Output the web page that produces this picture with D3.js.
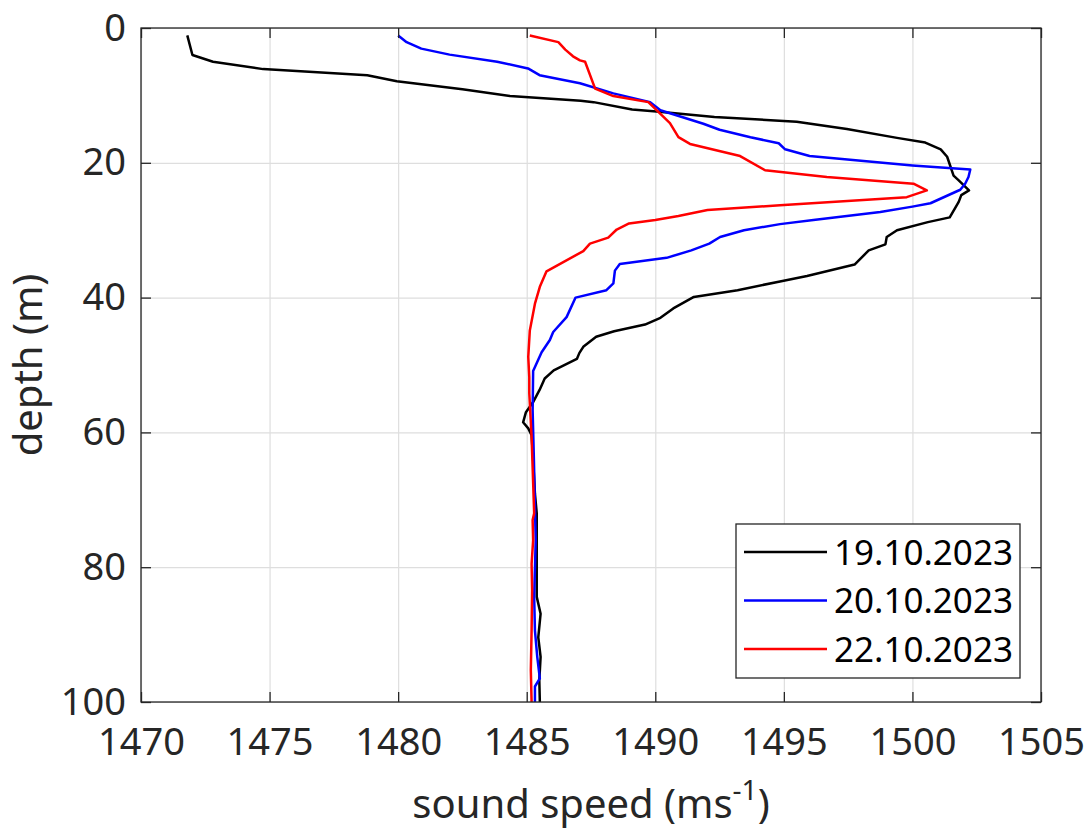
<!DOCTYPE html>
<html lang="en">
<head>
<meta charset="utf-8" />
<title>Sound speed profiles</title>
<script src="https://cdn.jsdelivr.net/npm/d3@7"></script>
<style>
  body { margin: 0; background: #fff; }
  svg text { font-family: "Noto Sans", sans-serif; }
</style>
</head>
<body>
<div id="chart"></div>
<script>

// ---- data ----
var dates = ["19.10.2023", "20.10.2023", "22.10.2023"];
var colors = ["#000000", "#0000ff", "#ff0000"];
var xTicks = [1470, 1475, 1480, 1485, 1490, 1495, 1500, 1505];
var yTicks = [0, 20, 40, 60, 80, 100];

// 19.10.2023
var depth1 = [1.1, 4.0, 5.0, 6.1, 7.0, 7.9, 9.1, 10.1, 10.8, 11.0, 12.1, 12.4, 13.2, 13.9, 15.0, 16.3, 17.0, 18.0, 19.1,
  21.9, 22.6, 24.1, 24.8, 25.8, 28.1, 28.8, 30.0, 31.0, 32.1, 33.0, 35.1, 36.8, 37.6, 38.9, 39.9, 41.6, 43.0, 44.0,
  45.0, 45.8, 47.3, 48.2, 49.1, 50.8, 52.0, 53.7, 55.5, 57.0, 58.5, 59.4, 60.4, 64.1, 69.1, 72.0, 76.0, 84.4, 86.9,
  90.4, 93.3, 96.8, 100];
var speed1 = [1471.8, 1472.0, 1472.8, 1474.75, 1478.8, 1479.95, 1482.5, 1484.35, 1487.1, 1487.6, 1489.1, 1490.05,
  1492.3, 1495.5, 1497.45, 1499.4, 1500.5, 1501.1, 1501.35, 1501.6, 1501.8, 1502.2, 1501.9, 1501.8, 1501.45, 1500.6,
  1499.4, 1499.0, 1498.95, 1498.3, 1497.75, 1495.9, 1494.85, 1493.2, 1491.5, 1490.7, 1490.2, 1489.6, 1488.4, 1487.7,
  1487.2, 1487.05, 1486.95, 1486.05, 1485.7, 1485.5, 1485.25, 1484.97, 1484.86, 1485.06, 1485.19, 1485.25, 1485.32,
  1485.39, 1485.39, 1485.39, 1485.54, 1485.45, 1485.54, 1485.49, 1485.51];

// 20.10.2023
var depth2 = [1.1, 2.1, 3.06, 3.95, 5.0, 6.0, 7.0, 8.2, 9.7, 11.0, 12.2, 14.2, 15.1, 16.2, 17.1, 18.0, 19.0, 20.4,
  21.0, 22.1, 23.1, 24.0, 26.0, 26.5, 27.3, 28.5, 29.1, 30.0, 31.0, 32.0, 33.0, 34.1, 35.0, 36.0, 37.9, 38.9, 40.0,
  42.9, 45.1, 46.3, 48.1, 50.9, 56.7, 64.1, 76.0, 84.4, 89.4, 93.3, 96.5, 97.7, 100];
var speed2 = [1480.0, 1480.33, 1480.9, 1482.0, 1483.85, 1485.05, 1485.5, 1487.07, 1488.37, 1489.8, 1490.2, 1491.87,
  1492.5, 1493.7, 1494.8, 1495.05, 1496.0, 1500.0, 1502.25, 1502.18, 1502.05, 1501.86, 1500.7, 1500.0, 1498.75,
  1496.15, 1494.85, 1493.45, 1492.52, 1492.1, 1491.4, 1490.44, 1488.62, 1488.43, 1488.37, 1488.1, 1486.9, 1486.55,
  1486.03, 1485.9, 1485.58, 1485.25, 1485.23, 1485.28, 1485.35, 1485.29, 1485.32, 1485.41, 1485.51, 1485.32, 1485.32];

// 22.10.2023
var depth3 = [1.1, 2.1, 3.2, 4.2, 4.8, 5.0, 9.0, 10.1, 11.0, 12.2, 14.1, 16.2, 17.2, 19.0, 21.1, 22.1, 23.1, 24.1,
  25.1, 26.3, 27.0, 27.9, 28.5, 29.0, 29.9, 31.1, 32.0, 33.1, 36.1, 38.4, 40.9, 44.9, 48.8, 51.8, 54.2, 60.7, 72.0,
  73.0, 76.0, 79.5, 83.4, 89.4, 95.3, 100];
var speed3 = [1485.12, 1486.23, 1486.5, 1486.8, 1487.07, 1487.27, 1487.66, 1488.37, 1489.73, 1490.05, 1490.57,
  1490.9, 1491.35, 1493.3, 1494.27, 1496.67, 1500.04, 1500.56, 1499.78, 1494.85, 1492.03, 1490.9, 1490.0, 1488.98,
  1488.5, 1488.17, 1487.46, 1487.2, 1485.77, 1485.51, 1485.32, 1485.12, 1485.06, 1485.1, 1485.1, 1485.19, 1485.29,
  1485.23, 1485.25, 1485.19, 1485.21, 1485.19, 1485.16, 1485.19];

var depths = [depth1, depth2, depth3];
var speeds = [speed1, speed2, speed3];

// ---- layout ----
var margin = {top: 28, right: 46, bottom: 128, left: 141},
    width = 1087 - margin.left - margin.right,
    height = 830 - margin.top - margin.bottom;

var axisColor = "#262626";

var svg = d3.select("#chart")
  .append("svg")
    .attr("width", 1087)
    .attr("height", 830)
  .append("g")
    .attr("transform", "translate(" + margin.left + "," + margin.top + ")");

var x = d3.scaleLinear().domain([1470, 1505]).range([0, width]);
var y = d3.scaleLinear().domain([0, 100]).range([0, height]);

// grid
svg.append("g")
  .attr("transform", "translate(0," + height + ")")
  .call(d3.axisBottom(x).tickValues(xTicks).tickSize(-height).tickFormat(""))
  .call(function(g) { g.select(".domain").remove(); })
  .selectAll("line").attr("stroke", "#dedede").attr("stroke-width", 1.2);
svg.append("g")
  .call(d3.axisLeft(y).tickValues(yTicks).tickSize(-width).tickFormat(""))
  .call(function(g) { g.select(".domain").remove(); })
  .selectAll("line").attr("stroke", "#dedede").attr("stroke-width", 1.2);

// profiles
var line = d3.line()
  .x(function(d) { return x(d[0]); })
  .y(function(d) { return y(d[1]); });

for (var i = 0; i < dates.length; i++) {
  svg.append("path")
    .datum(d3.zip(speeds[i], depths[i]))
    .attr("fill", "none")
    .attr("stroke", colors[i])
    .attr("stroke-width", 2.5)
    .attr("stroke-linejoin", "round")
    .attr("d", line);
}

// axes (ticks point inward, box on)
function styleAxis(g) {
  g.select(".domain").remove();
  g.selectAll("line").attr("stroke", axisColor).attr("stroke-width", 1.3);
  g.selectAll("text").attr("fill", axisColor);
}

svg.append("g")
  .attr("transform", "translate(0," + height + ")")
  .call(d3.axisBottom(x).tickValues(xTicks).tickFormat(d3.format("d"))
    .tickSizeInner(-10).tickSizeOuter(0).tickPadding(26))
  .attr("font-size", 38)
  .call(styleAxis);

svg.append("g")
  .call(d3.axisLeft(y).tickValues(yTicks).tickSizeInner(-10).tickSizeOuter(0).tickPadding(15))
  .attr("font-size", 38)
  .call(styleAxis);

svg.append("g")
  .call(d3.axisTop(x).tickValues(xTicks).tickSizeInner(-10).tickSizeOuter(0).tickFormat(""))
  .call(styleAxis);

svg.append("g")
  .attr("transform", "translate(" + width + ",0)")
  .call(d3.axisRight(y).tickValues(yTicks).tickSizeInner(-10).tickSizeOuter(0).tickFormat(""))
  .call(styleAxis);

svg.append("rect")
  .attr("width", width)
  .attr("height", height)
  .attr("fill", "none")
  .attr("stroke", axisColor)
  .attr("stroke-width", 1.3);

// axis labels
var xl = svg.append("text")
  .attr("x", width / 2)
  .attr("y", 790)
  .attr("text-anchor", "middle")
  .attr("font-size", 40)
  .attr("fill", axisColor);
xl.append("tspan").text("sound speed (ms");
xl.append("tspan").attr("font-size", 28).attr("dy", -18).text("-1");
xl.append("tspan").attr("dy", 18).text(")");

svg.append("text")
  .attr("transform", "translate(" + (42 - margin.left) + "," + (height / 2) + ") rotate(-90)")
  .attr("text-anchor", "middle")
  .attr("font-size", 40)
  .attr("fill", axisColor)
  .text("depth (m)");

// legend
var legend = svg.append("g")
  .attr("transform", "translate(" + (736 - margin.left) + "," + (524 - margin.top) + ")");

legend.append("rect")
  .attr("width", 284)
  .attr("height", 154)
  .attr("fill", "#fff")
  .attr("stroke", axisColor)
  .attr("stroke-width", 1.3);

dates.forEach(function(d, i) {
  var row = legend.append("g").attr("transform", "translate(0," + (28 + i * 48.5) + ")");
  row.append("line")
    .attr("x1", 8).attr("x2", 91)
    .attr("stroke", colors[i])
    .attr("stroke-width", 2.5);
  row.append("text")
    .attr("x", 98)
    .attr("dy", "0.36em")
    .attr("font-size", 35)
    .attr("fill", "#000")
    .text(d);
});

</script>
</body>
</html>
